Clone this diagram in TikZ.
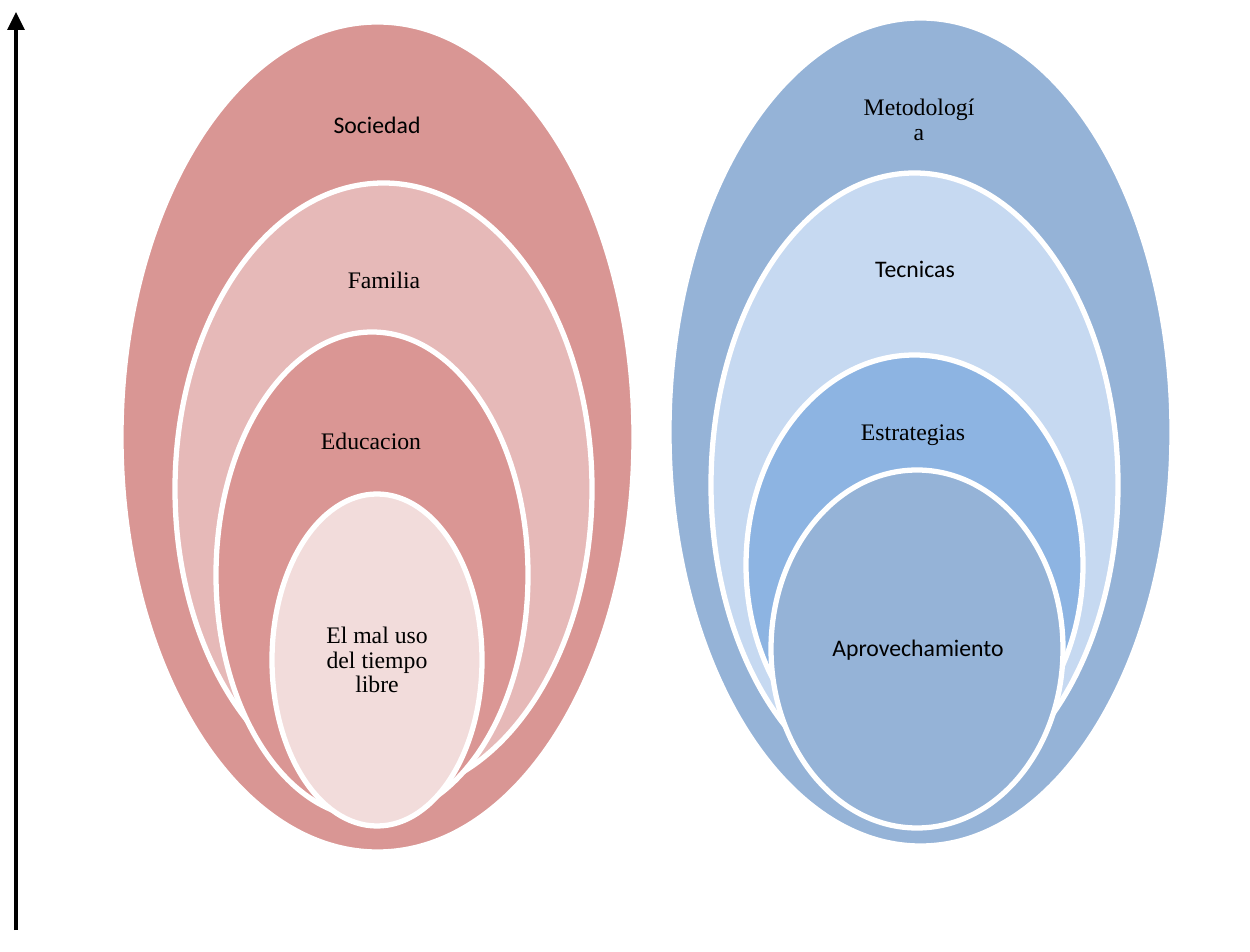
\documentclass[tikz,border=0pt]{standalone}
\usepackage{fontspec}
\setmainfont{Liberation Serif}
\newfontfamily\carlito{Carlito}
\usepackage{xcolor}
\usepackage{tikz}
\usetikzlibrary{shapes.geometric,arrows.meta}
\definecolor{rosedark}{HTML}{D99694}
\definecolor{roselight}{HTML}{E6B9B8}
\definecolor{rosemid}{HTML}{DA9694}
\definecolor{rosepale}{HTML}{F2DCDB}
\definecolor{bluedark}{HTML}{95B3D7}
\definecolor{bluelight}{HTML}{C6D9F1}
\definecolor{bluemid}{HTML}{8DB4E2}
\tikzset{
  ring/.style    = {ellipse, draw=white, line width=3pt, inner sep=0pt},
  serif/.style   = {font=\fontsize{13.5}{14}\selectfont, align=center, inner sep=1pt},
  sans/.style    = {font=\carlito\fontsize{13.5}{14}\selectfont, align=center, inner sep=1pt},
  axis/.style    = {-{Triangle[length=0.36cm, width=0.34cm]}, line width=1.9pt},
}
\begin{document}
\begin{tikzpicture}[x=1cm, y=1cm]
    \useasboundingbox (0,0) rectangle (25,19.02);

    % axis
    \coordinate (ylow) at (0.32,0.42);
    \coordinate (yhigh) at (0.32,18.78);
    \draw[axis] (ylow) -- (yhigh);

    % left set
    \node[ring, fill=rosedark, minimum width=10.26cm, minimum height=16.6cm] (soc) at (7.55,10.28) {};
    \node[ring, fill=roselight, minimum width=8.34cm, minimum height=12.24cm] (fam) at (7.67,9.24) {};
    \node[ring, fill=rosemid, minimum width=6.24cm, minimum height=9.72cm] (edu) at (7.44,7.52) {};
    \node[ring, fill=rosepale, minimum width=4.2cm, minimum height=6.64cm] (mal) at (7.54,5.82) {};
    \node[sans] (tsoc) at (7.54,16.52) {Sociedad};
    \node[serif] (tfam) at (7.68,13.42) {Familia};
    \node[serif] (tedu) at (7.42,10.2) {Educacion};
    \node[serif] (tmal) at (7.54,5.82) {El mal uso\\del tiempo\\libre};

    % right set
    \node[ring, fill=bluedark, minimum width=10.06cm, minimum height=16.56cm] (met) at (18.41,10.38) {};
    \node[ring, fill=bluelight, minimum width=8.14cm, minimum height=12.48cm] (tec) at (18.29,9.32) {};
    \node[ring, fill=bluemid, minimum width=6.74cm, minimum height=8.4cm] (est) at (18.29,7.72) {};
    \node[ring, fill=bluedark, minimum width=5.84cm, minimum height=7.16cm] (apr) at (18.34,6.04) {};
    \node[serif] (tmet) at (18.38,16.62) {Metodologí\\a};
    \node[sans] (ttec) at (18.3,13.64) {Tecnicas};
    \node[serif] (test) at (18.26,10.32) {Estrategias};
    \node[sans] (tapr) at (18.36,6.02) {Aprovechamiento};
\end{tikzpicture}
\end{document}
